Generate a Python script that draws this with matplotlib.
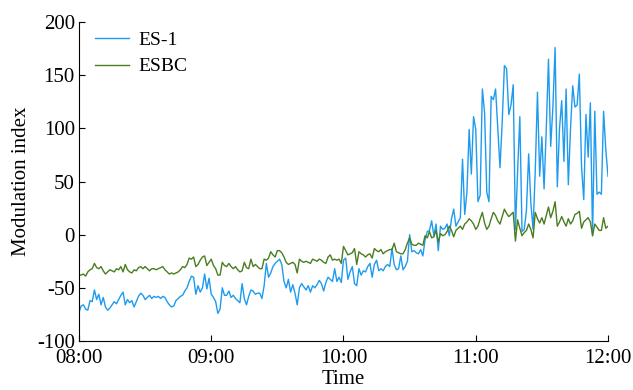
import numpy as np
import matplotlib
matplotlib.use("Agg")
import matplotlib.pyplot as plt

# one sample per minute, 08:00 -> 12:00
hour_labels = ["08:00", "09:00", "10:00", "11:00", "12:00"]

es1 = [
    -73, -67, -66, -70, -71, -62, -63, -52, -61, -56,
    -66, -59, -68, -71, -69, -66, -63, -65, -61, -57,
    -54, -66, -61, -64, -62, -68, -63, -58, -55, -57,
    -61, -59, -57, -60, -58, -59, -58, -60, -58, -59,
    -63, -66, -68, -67, -62, -60, -58, -57, -53, -50,
    -44, -39, -40, -56, -48, -54, -50, -37, -51, -41,
    -56, -59, -63, -74, -70, -50, -57, -57, -53, -59,
    -57, -60, -62, -64, -46, -60, -66, -58, -52, -53,
    -56, -55, -55, -60, -48, -27, -40, -36, -30, -27,
    -25, -23, -28, -44, -50, -42, -54, -47, -55, -66,
    -50, -46, -49, -52, -48, -54, -48, -50, -47, -43,
    -46, -53, -45, -40, -42, -44, -32, -44, -40, -45,
    -24, -22, -42, -35, -30, -46, -48, -32, -38, -34,
    -35, -30, -27, -40, -28, -24, -34, -32, -34, -30,
    -28, -30, -13, -28, -33, -32, -20, -33, -30, -25,
    0, -16, -15, -17, -18, -14, -20, -5, 3, 4,
    13, -1, 10, -15, 8, 5, 6, 10, -1, 15,
    24, 8, 12, 16, 71, 19, 40, 99, 57, 111,
    99, 31, 37, 137, 115, 40, 31, 130, 127, 137,
    100, 63, 106, 159, 156, 113, 122, 141, 5, 60,
    111, 3, 5, 23, 76, 30, 5, 60, 134, 55,
    92, 43, 100, 165, 83, 120, 176, 45, 100, 126,
    69, 137, 47, 100, 140, 120, 122, 151, 64, 33,
    113, 73, 124, -1, 116, 38, 40, 38, 116, 80,
    55,
]

esbc = [
    -38, -38, -37, -39, -35, -33, -32, -27, -31, -32,
    -30, -34, -37, -35, -33, -34, -35, -32, -33, -30,
    -35, -28, -33, -35, -36, -33, -34, -31, -30, -32,
    -30, -32, -34, -32, -32, -33, -32, -31, -30, -33,
    -35, -37, -36, -37, -36, -35, -33, -30, -31, -28,
    -22, -23, -21, -30, -28, -24, -21, -20, -29, -26,
    -23, -29, -32, -38, -38, -26, -29, -30, -27, -30,
    -32, -30, -33, -35, -34, -26, -31, -32, -23, -30,
    -28, -30, -32, -32, -23, -24, -22, -16, -19, -21,
    -15, -15, -17, -21, -26, -28, -27, -26, -28, -36,
    -23, -25, -26, -25, -26, -27, -23, -24, -25, -23,
    -24, -26, -27, -21, -19, -24, -23, -24, -23, -27,
    -11, -15, -19, -18, -17, -13, -28, -16, -18, -19,
    -21, -19, -18, -22, -13, -15, -16, -14, -18, -16,
    -15, -14, -14, -8, -16, -17, -18, -18, -14, -8,
    -3, -9, -10, -10, -8, -9, -10, -1, -3, 3,
    -3, -2, 4, -7, 1, -1, 0, 3, 8, 4,
    -2, 4, 6, 8, 5, 10, 12, 15, 13, 10,
    5, 8, 15, 21, 11, 5, 8, 15, 21, 18,
    13, 10, 17, 24, 20, 17, 19, 21, -6, 14,
    6, -1, 2, 4, 10, 5, -3, 21, 15, 11,
    16, 10, 18, 26, 16, 22, 31, 8, 12, 17,
    12, 8, 15, 10, 13, 19, 20, 22, 6, 12,
    14, 16, 12, -1, 10, 7, 4, 4, 16, 6,
    8,
]

plt.rcParams['font.family'] = ['Liberation Serif', 'DejaVu Serif']
plt.rcParams['axes.unicode_minus'] = False

minutes = np.arange(len(es1))

fig = plt.figure(figsize=(6.33, 3.9), dpi=100)
ax = fig.add_axes([0.1248, 0.1256, 0.8357, 0.818])

ax.plot(minutes, es1, color='#1E9BEF', linewidth=1.0, label='ES-1')
ax.plot(minutes, esbc, color='#4A7D20', linewidth=1.0, label='ESBC')

ax.set_xlim(0, 240)
ax.set_ylim(-100, 200)
ax.set_xticks(np.arange(0, 241, 60))
ax.set_xticklabels(hour_labels)
ax.set_yticks(np.arange(-100, 201, 50))

ax.spines['top'].set_visible(False)
ax.spines['right'].set_visible(False)
ax.tick_params(direction='in', length=4, width=0.8, labelsize=15)
ax.tick_params(axis='x', pad=6)
ax.tick_params(axis='y', pad=3)

ax.set_xlabel("Time", fontsize=15, labelpad=1)
ax.set_ylabel("Modulation index", fontsize=15, labelpad=4)

ax.legend(loc='upper left', frameon=False, fontsize=14, handlelength=1.75,
          handletextpad=0.5, labelspacing=0.45, borderaxespad=0.0,
          bbox_to_anchor=(0.015, 0.995))

fig.savefig("out.png", dpi=100)
